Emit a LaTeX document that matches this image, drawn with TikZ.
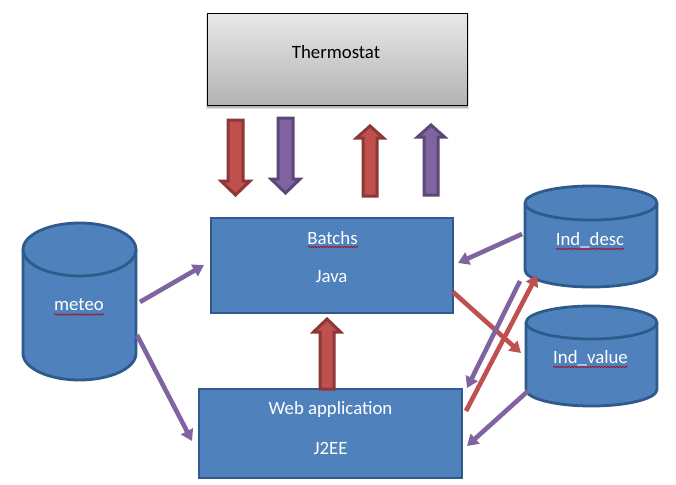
\documentclass[tikz,border=0pt]{standalone}
\usepackage{fontspec}
\setmainfont{Carlito}
\usetikzlibrary{arrows.meta,decorations.pathmorphing}
\definecolor{bfill}{HTML}{4F81BD}
\definecolor{bline}{HTML}{2F5A8C}
\definecolor{rfill}{HTML}{C0504D}
\definecolor{rline}{HTML}{8C3836}
\definecolor{pfill}{HTML}{8064A2}
\definecolor{pline}{HTML}{5C4776}
\tikzset{
  boxnode/.style={draw=bline,fill=bfill,line width=2.4pt,inner sep=0pt,outer sep=0pt},
  anchorbox/.style={inner sep=0pt,outer sep=0pt},
  cylpath/.style={draw=bline,fill=bfill,line width=2.8pt},
  wlabel/.style={text=white,font=\fontsize{18.8}{20}\selectfont,inner sep=0pt},
  klabel/.style={text=black,font=\fontsize{18.8}{20}\selectfont,inner sep=0pt},
  redblock/.style={draw=rline,fill=rfill,line width=3pt,miter limit=4},
  purpleblock/.style={draw=pline,fill=pfill,line width=3pt,miter limit=4},
  redlink/.style={draw=rfill,line width=4.6pt,-{Triangle[length=11pt,width=13pt]}},
  purplelink/.style={draw=pfill,line width=4.6pt,-{Triangle[length=11pt,width=13pt]}},
  squiggle/.style={draw=red!70!black,line width=.6pt,decorate,decoration={snake,amplitude=.8pt,segment length=3pt}}
}
% x1, x2, ytop, ybottom, ry
\newcommand{\dbshape}[5]{%
  \pgfmathsetmacro{\cx}{(#1+#2)/2}\pgfmathsetmacro{\rx}{(#2-#1)/2}%
  \pgfmathsetmacro{\ya}{#3+#5}\pgfmathsetmacro{\yb}{#4-#5}%
  \path[cylpath] (#1,\ya) arc[start angle=180,end angle=0,x radius=\rx,y radius=-#5]
     -- (#2,\yb) arc[start angle=0,end angle=-180,x radius=\rx,y radius=-#5] -- cycle;
  \path[cylpath,fill=none] (#1,\ya) arc[start angle=180,end angle=360,x radius=\rx,y radius=-#5];
}
% style, x centre, half shaft, half head, tail y, head base y, tip y
\newcommand{\blockarrow}[7]{%
  \path[#1] ({#2-#3},#5) -- ({#2-#3},#6) -- ({#2-#4},#6) -- (#2,#7) -- ({#2+#4},#6) -- ({#2+#3},#6) -- ({#2+#3},#5) -- cycle;
}
\begin{document}
\begin{tikzpicture}[x=1pt,y=-1pt]
\useasboundingbox (0,0) rectangle (676,484);
\fill[white] (0,0) rectangle (676,484);

% Thermostat
\fill[black,opacity=.12] (206,14) rectangle (469,109);
\fill[black,opacity=.18] (207,15) rectangle (468,108);
\node[anchorbox,draw=black,line width=1pt,minimum width=260pt,minimum height=92.5pt,top color=gray!18,bottom color=black!30] (thermo) at (337,59.7) {};
\node[klabel] (thermolabel) at (336,52) {Thermostat};

% Blocks
\node[boxnode,minimum width=242pt,minimum height=95pt] (batch) at (332,265.5) {};
\node[boxnode,minimum width=263pt,minimum height=89pt] (web) at (330.5,433.5) {};
\node[wlabel] (batchlabel) at (332.5,238) {Batchs};
\node[wlabel] (javalabel) at (331.5,277) {Java};
\node[wlabel] (weblabel) at (330.5,409) {Web application};
\node[wlabel] (j2eelabel) at (330.5,448) {J2EE};

% Cylinders
\dbshape{23}{136}{223}{380}{26.5}
\dbshape{525}{657}{186}{287}{17}
\dbshape{526}{657}{306}{406}{16.5}
\node[anchorbox,minimum width=113pt,minimum height=157pt] (meteo) at (79.5,301.5) {};
\node[anchorbox,minimum width=132pt,minimum height=101pt] (inddesc) at (591,236.5) {};
\node[anchorbox,minimum width=131pt,minimum height=100pt] (indvalue) at (591.5,356) {};
\node[wlabel] (meteolabel) at (79,305) {meteo};
\node[wlabel] (desclabel) at (590,240) {Ind\_desc};
\node[wlabel] (valuelabel) at (590.5,358) {Ind\_value};
\draw[squiggle] (54,314.5) -- (104,314.5);
\draw[squiggle] (308,247) -- (358,247);
\draw[squiggle] (556,249) -- (624,249);
\draw[squiggle] (553,367) -- (628,367);

% Block arrows
\blockarrow{redblock}{235.5}{7.5}{14.5}{120}{181}{195}
\blockarrow{purpleblock}{285.5}{7.5}{14.5}{118}{179}{193}
\blockarrow{redblock}{370}{7}{13.5}{196}{138}{126}
\blockarrow{purpleblock}{431}{7}{13.5}{195}{137}{125}
\blockarrow{redblock}{327}{7}{13.5}{389}{332}{319}

% Links
\draw[purplelink] ([shift={(4,.5)}]meteo.east) -- ([shift={(-7,-.5)}]batch.west);
\draw[purplelink] ([shift={(1,33.5)}]meteo.east) -- ([shift={(-7,7.5)}]web.west);
\draw[purplelink] ([shift={(-3,-2.5)}]inddesc.west) -- ([shift={(5,-2.5)}]batch.east);
\draw[redlink] ([shift={(0,26.5)}]batch.east) -- ([shift={(-5,-3)}]indvalue.west);
\draw[purplelink] ([shift={(-5,44.5)}]inddesc.west) -- ([shift={(5,-1)}]web.north east);
\draw[redlink] ([shift={(4,-22.5)}]web.east) -- ([shift={(12,38.5)}]inddesc.west);
\draw[purplelink] ([shift={(2,35)}]indvalue.west) -- ([shift={(5,12.5)}]web.east);
\end{tikzpicture}
\end{document}
